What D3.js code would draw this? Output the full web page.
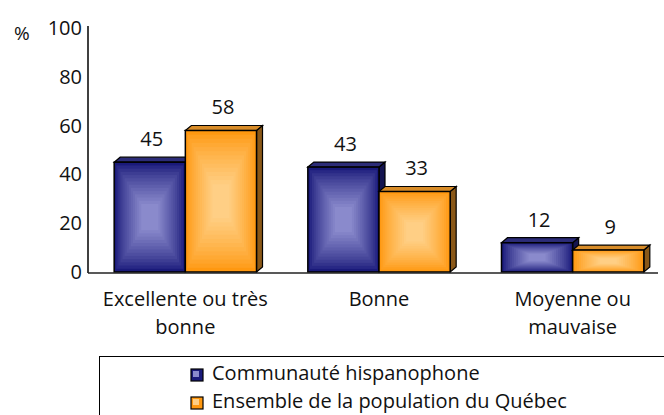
<!DOCTYPE html>
<html><head><meta charset="utf-8">
<script src="https://cdn.jsdelivr.net/npm/d3@7"></script>
<style>body{margin:0;background:#fff}svg{display:block}text{font-family:"Open Sans",sans-serif;fill:#111}</style>
</head><body><svg id="c" width="664" height="415"></svg>
<script>
const categories = ["Excellente ou très bonne", "Bonne", "Moyenne ou mauvaise"];
const categoryLines = [["Excellente ou très", "bonne"], ["Bonne"], ["Moyenne ou", "mauvaise"]];
const seriesNames = ["Communauté hispanophone", "Ensemble de la population du Québec"];
const hispanophone = [45, 43, 12];
const quebec = [58, 33, 9];
const yTicks = [0, 20, 40, 60, 80, 100];

const svg = d3.select("#c");
const fs = 20;
const y = d3.scaleLinear().domain([0, 100]).range([272, 28]);
const x = d3.scaleBand().domain(categories).range([89, 669]).paddingInner(0.265).paddingOuter(0.13);
const xs = d3.scaleBand().domain([0, 1]).range([0, x.bandwidth()]);

const palettes = [
  {edge: "#1a1a7a", center: "#8a8acc", top: "#2c2c78", side: "#141450"},
  {edge: "#ff9810", center: "#ffcf85", top: "#d88c28", side: "#8a5818"}
];
const dx = 6, dy = 5;

// y axis
const ya = svg.append("g").attr("transform", "translate(88,0)")
  .call(d3.axisLeft(y).tickValues(yTicks).tickSize(0).tickPadding(6));
ya.select(".domain").attr("stroke", "#000").attr("stroke-width", 1.5).attr("d", "M0,26V273");
ya.selectAll("text").attr("font-size", fs).attr("font-family", '"Open Sans",sans-serif').attr("fill", "#111");
svg.append("text").attr("x", 14).attr("y", 40).attr("font-size", fs - 1).text("%");

const series = [hispanophone, quebec];
series.forEach((vals, si) => {
  const p = palettes[si];
  const interp = d3.interpolateRgb(p.edge, p.center);
  vals.forEach((v, ci) => {
    const x0 = x(categories[ci]) + xs(si);
    const w = xs.bandwidth();
    const yt = y(v), yb = y(0), h = yb - yt;
    const g = svg.append("g");
    g.append("path").attr("d", `M${x0+w},${yt}L${x0+w+dx},${yt-dy}L${x0+w+dx},${yb-dy}L${x0+w},${yb}Z`)
      .attr("fill", p.side).attr("stroke", "#000").attr("stroke-width", 1.2);
    g.append("path").attr("d", `M${x0},${yt}L${x0+dx},${yt-dy}L${x0+w+dx},${yt-dy}L${x0+w},${yt}Z`)
      .attr("fill", p.top).attr("stroke", "#000").attr("stroke-width", 1.2);
    const N = 14;
    for (let i = 0; i < N; i++) {
      const t = i / (N - 1);
      const ix = t * w * 0.38, iy = t * h * 0.38;
      g.append("rect").attr("x", x0 + ix).attr("y", yt + iy)
        .attr("width", w - 2 * ix).attr("height", h - 2 * iy)
        .attr("fill", interp(Math.pow(t, 0.8)));
    }
    g.append("rect").attr("x", x0).attr("y", yt).attr("width", w).attr("height", h)
      .attr("fill", "none").attr("stroke", "#000").attr("stroke-width", 1.5);
    svg.append("text").attr("x", x0 + w / 2 + 2).attr("y", yt - 16).attr("text-anchor", "middle")
      .attr("font-size", fs).text(v);
  });
});

// x axis line
svg.append("line").attr("x1", 88).attr("x2", 658).attr("y1", 273).attr("y2", 273)
  .attr("stroke", "#222").attr("stroke-width", 1.5);

categories.forEach((c, ci) => {
  const cx = x(c) + x.bandwidth() / 2;
  categoryLines[ci].forEach((ln, li) => {
    svg.append("text").attr("x", cx).attr("y", 306 + li * 28).attr("text-anchor", "middle")
      .attr("font-size", fs).text(ln);
  });
});

// legend
svg.append("rect").attr("x", 99.5).attr("y", 356.5).attr("width", 600).attr("height", 100)
  .attr("fill", "#fff").attr("stroke", "#000").attr("stroke-width", 1);
seriesNames.forEach((s, si) => {
  const p = palettes[si];
  const ly = 369 + si * 28;
  svg.append("rect").attr("x", 191).attr("y", ly).attr("width", 12).attr("height", 12)
    .attr("fill", p.edge).attr("stroke", "#000").attr("stroke-width", 1.2);
  svg.append("rect").attr("x", 193).attr("y", ly + 2).attr("width", 6).attr("height", 6)
    .attr("fill", p.center);
  svg.append("text").attr("x", 212).attr("y", ly + 11).attr("font-size", fs).text(s);
});
</script></body></html>
